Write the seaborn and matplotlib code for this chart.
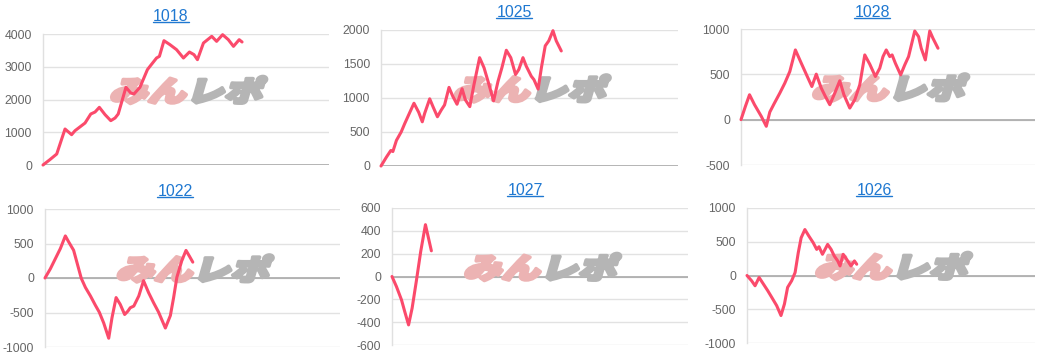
import numpy as np
import pandas as pd
import matplotlib
matplotlib.use("Agg")
import matplotlib.pyplot as plt
import seaborn as sns
from matplotlib.textpath import TextPath
from matplotlib.patches import PathPatch
from matplotlib.font_manager import FontProperties
from matplotlib.transforms import Affine2D
from matplotlib.lines import Line2D

# ---------------- data ----------------
titles = ["1018", "1025", "1028", "1022", "1027", "1026"]

x_1018 = [0, 2.4, 4.8, 7.7, 10.0, 11.2, 14.7, 16.7, 18.2, 19.7, 21.7, 23.7, 25.2, 26.3, 29.0, 30.7,
          31.8, 33.9, 36.5, 37.4, 39.7, 40.7, 42.3, 44.4, 46.7, 49.1, 51.2, 52.8, 54.0, 56.1, 59.0,
          60.7, 62.8, 64.8, 66.6, 68.6, 69.6]
y_1018 = [0, 163, 336, 1099, 926, 1048, 1282, 1557, 1618, 1761, 1537, 1354, 1435, 1557, 2372, 2198,
          2168, 2372, 2911, 3013, 3267, 3318, 3796, 3674, 3522, 3267, 3450, 3369, 3216, 3725, 3929,
          3776, 3980, 3827, 3623, 3827, 3756]

x_1025 = [0, 1.8, 3.3, 4.0, 5.2, 6.8, 8.0, 9.7, 11.1, 12.7, 13.9, 14.7, 16.4, 17.5, 19.0, 20.3,
          21.4, 22.9, 24.2, 25.6, 27.3, 28.4, 29.9, 31.3, 33.2, 34.7, 36.3, 37.9, 39.4, 40.7, 42.2,
          43.7, 45.3, 46.4, 47.8, 48.9, 50.6, 51.5, 52.9, 54.0, 55.3, 56.5, 57.9, 59.0, 60.7]
y_1025 = [0, 129, 228, 213, 377, 501, 625, 789, 923, 789, 650, 774, 988, 873, 724, 824,
          898, 1156, 1022, 908, 1136, 973, 873, 1196, 1593, 1444, 1206, 958, 1246, 1444, 1702,
          1593, 1345, 1419, 1593, 1469, 1320, 1270, 1131, 1444, 1767, 1841, 1990, 1841, 1692]

x_1028 = [0, 1.5, 2.9, 4.6, 6.9, 8.6, 9.8, 11.2, 13.2, 14.9, 16.6, 18.5, 20.5, 22.8, 24.1, 25.6,
          27.3, 28.7, 30.2, 31.9, 33.6, 35.0, 37.0, 38.7, 40.4, 42.1, 43.8, 45.7, 47.2, 48.3, 49.4,
          50.6, 51.4, 52.5, 54.3, 55.7, 57.0, 59.1, 60.4, 61.3, 62.7, 64.2, 65.3, 67.0]
y_1028 = [0, 147, 275, 165, 37, -73, 84, 172, 293, 403, 531, 769, 623, 458, 366, 502,
          348, 256, 165, 293, 429, 275, 128, 220, 385, 714, 612, 476, 568, 696, 769,
          696, 714, 623, 494, 604, 696, 978, 916, 788, 659, 978, 897, 788]

x_1022 = [0, 1.8, 3.5, 5.2, 6.9, 8.0, 9.7, 10.8, 12.3, 13.7, 15.4, 17.1, 18.4, 19.9, 21.6, 22.7,
          24.1, 25.5, 27.0, 28.1, 28.9, 30.1, 31.8, 33.4, 35.1, 36.8, 38.5, 40.8, 42.5, 43.6, 44.7,
          46.4, 47.8, 48.9, 50.1]
y_1022 = [0, 132, 279, 426, 610, 525, 402, 230, -5, -137, -260, -397, -495, -652, -873, -578,
          -284, -382, -529, -480, -431, -407, -260, -39, -211, -358, -495, -725, -544, -284, 10,
          255, 400, 320, 230]

x_1027 = [0, 1.5, 3.2, 4.3, 5.6, 6.8, 8.2, 9.7, 11.3, 12.2, 13.3]
y_1027 = [0, -88, -204, -307, -424, -277, -44, 219, 454, 351, 225]

x_1026 = [0, 1.6, 2.8, 4.2, 5.7, 7.2, 8.6, 10.3, 11.8, 13.0, 14.1, 15.5, 16.7, 17.8, 18.8, 20.1,
          21.5, 23.0, 24.2, 25.0, 26.2, 27.1, 28.0, 29.2, 30.3, 31.5, 32.3, 33.4, 34.6, 36.1, 37.3,
          38.1]
y_1026 = [0, -78, -152, -29, -127, -225, -324, -446, -593, -422, -176, -78, 44, 338, 559, 681,
          583, 485, 387, 426, 314, 387, 461, 387, 289, 216, 142, 314, 240, 142, 216, 167]

yticks_1018 = [0, 1000, 2000, 3000, 4000]
yticks_1025 = [0, 500, 1000, 1500, 2000]
yticks_1028 = [-500, 0, 500, 1000]
yticks_1022 = [-1000, -500, 0, 500, 1000]
yticks_1027 = [-600, -400, -200, 0, 200, 400, 600]
yticks_1026 = [-1000, -500, 0, 500, 1000]

series_x = [x_1018, x_1025, x_1028, x_1022, x_1027, x_1026]
series_y = [y_1018, y_1025, y_1028, y_1022, y_1027, y_1026]
series_ticks = [yticks_1018, yticks_1025, yticks_1028, yticks_1022, yticks_1027, yticks_1026]
X_MAX = 100

# ---------------- layout (pixels) ----------------
W, H = 1043, 357
boxes = [(43, 329, 34, 165), (381, 678, 30, 166), (741, 1035, 29, 165),
         (45, 340, 209, 347), (392, 688, 208, 345), (747, 1035, 208, 343)]
title_pos = [(171, 20.6), (514, 16.6), (872, 16.6), (175, 195.6), (525, 194.6), (874, 194.6)]

LINE = "#fb4a6b"
TITLE = "#1f78d1"

sns.set_theme(style="whitegrid")
plt.rcParams["font.family"] = ["Liberation Sans", "DejaVu Sans"]
plt.rcParams["axes.unicode_minus"] = False

fig = plt.figure(figsize=(W / 100, H / 100), dpi=100)
fig.patch.set_facecolor("white")

fp_wm = FontProperties(family="Noto Sans CJK JP", weight="black")


def watermark(ax, cx, cy, w=158, h=27):
    p1 = TextPath((0, 0), "みん", size=1, prop=fp_wm)
    p2 = TextPath((2.0, 0), "レポ", size=1, prop=fp_wm)
    sk = Affine2D().skew_deg(12, 0)
    v = np.vstack([sk.transform(p1.vertices), sk.transform(p2.vertices)])
    x0, y0 = v.min(0)
    x1, y1 = v.max(0)
    t = (sk + Affine2D().translate(-(x0 + x1) / 2, -(y0 + y1) / 2)
         .scale(w / (x1 - x0) / W, h / (y1 - y0) / H)
         .translate(cx / W, 1 - cy / H) + fig.transFigure)
    for p, col in [(p1, "#ecb3b3"), (p2, "#b5b5b5")]:
        patch = PathPatch(p, transform=t, facecolor=col, edgecolor=col, linewidth=2.6,
                          joinstyle="round", zorder=1.8, clip_on=False)
        ax.add_patch(patch)


title_artists = []
for i in range(6):
    l, r, t, b = boxes[i]
    ax = fig.add_axes([l / W, 1 - b / H, (r - l) / W, (b - t) / H])
    df = pd.DataFrame({"x": series_x[i], "y": series_y[i]})
    sns.lineplot(data=df, x="x", y="y", ax=ax, color=LINE, linewidth=2.2,
                 sort=False, estimator=None, zorder=3)
    for ln in ax.lines:
        ln.set_clip_on(False)
        ln.set_solid_joinstyle("round")
    ticks = series_ticks[i]
    ax.set_xlim(0, X_MAX)
    ax.set_ylim(ticks[0], ticks[-1])
    ax.set_yticks(ticks)
    ax.set_yticklabels([str(v) for v in ticks])
    ax.set_xticks([])
    ax.set_xlabel("")
    ax.set_ylabel("")
    ax.set_facecolor("white")
    ax.grid(axis="y", color="#e2e2e2", linewidth=1.0)
    ax.grid(axis="x", visible=False)
    ax.axhline(0, color="#a9a9a9", linewidth=1.2, zorder=1.5)
    for s in ["top", "right", "bottom"]:
        ax.spines[s].set_visible(False)
    ax.spines["left"].set_color("#e0e0e0")
    ax.spines["left"].set_linewidth(1.0)
    ax.tick_params(axis="y", length=0, pad=8, labelsize=8.8, labelcolor="#666666")
    watermark(ax, (l + r) / 2 + 2, (t + b) / 2 - 9.5)
    tx, ty = title_pos[i]
    ta = fig.text(tx / W, 1 - ty / H, titles[i], ha="center", va="baseline",
                  fontsize=11.5, color=TITLE)
    title_artists.append((ta, ty))

fig.canvas.draw()
renderer = fig.canvas.get_renderer()
for ta, ty in title_artists:
    bb = ta.get_window_extent(renderer)
    uy = 1 - (ty + 1.6) / H
    fig.add_artist(Line2D([bb.x0 / W, bb.x1 / W], [uy, uy], transform=fig.transFigure,
                          color=TITLE, linewidth=1.0))

fig.savefig("out.png", dpi=100, facecolor="white")
